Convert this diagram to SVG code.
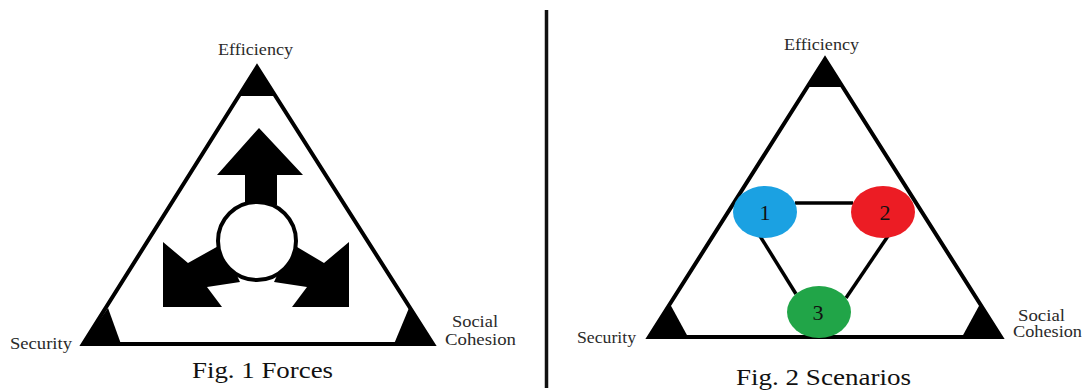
<svg xmlns="http://www.w3.org/2000/svg" width="1085" height="392" viewBox="0 0 1085 392">
<style>
.lbl{font-family:"Liberation Serif","Times New Roman",serif;font-size:16px;fill:#2a2a2a}
.cap{font-family:"Liberation Serif","Times New Roman",serif;font-size:24px;fill:#111}
.num{font-family:"Liberation Serif","Times New Roman",serif;font-size:22px;fill:#111}
.tri{fill:none;stroke:#000;stroke-width:4;stroke-linejoin:miter}
.blk{fill:#000}
.edge{stroke:#000;stroke-width:3.5;fill:none}
</style>
<rect width="1085" height="392" fill="#fff"/>
<g id="fig1">
  <polygon class="tri" points="257,67 83,344 433,344"/>
  <polygon class="blk" points="257,67 239,96 275,96"/>
  <polygon class="blk" points="83,344 108,308 121,344"/>
  <polygon class="blk" points="433,344 394,344 409,308"/>
  <g id="forces">
    <polygon class="blk" points="259,128 303,175 277,175 277,205 245,205 245,175 217,175"/>
    <polygon class="blk" points="163,242 188,263 222,244 240,282 207,287 222,307 163,307"/>
    <polygon class="blk" points="349,242 324,263 292,244 274,282 307,287 292,307 349,307"/>
    <circle cx="257" cy="241" r="39" fill="#fff" stroke="#000" stroke-width="4"/>
  </g>
  <text class="lbl" x="218" y="55" textLength="75" lengthAdjust="spacingAndGlyphs">Efficiency</text>
  <text class="lbl" x="10" y="349" textLength="62" lengthAdjust="spacingAndGlyphs">Security</text>
  <text class="lbl" x="452" y="327" textLength="46" lengthAdjust="spacingAndGlyphs">Social</text>
  <text class="lbl" x="445" y="345" textLength="71" lengthAdjust="spacingAndGlyphs">Cohesion</text>
  <text class="cap" x="192" y="378" textLength="141" lengthAdjust="spacingAndGlyphs">Fig. 1 Forces</text>
</g>
<g id="divider">
  <line x1="546.5" y1="10" x2="546.5" y2="388" stroke="#111" stroke-width="3.5"/>
</g>
<g id="fig2">
  <polygon class="tri" points="825,59 649,337 1001,337"/>
  <polygon class="blk" points="825,59 807,87 843,87"/>
  <polygon class="blk" points="649,337 670,304 688,337"/>
  <polygon class="blk" points="1001,337 962,337 980,304"/>
  <text class="lbl" x="784" y="50" textLength="75" lengthAdjust="spacingAndGlyphs">Efficiency</text>
  <text class="lbl" x="577" y="343" textLength="59" lengthAdjust="spacingAndGlyphs">Security</text>
  <text class="lbl" x="1018" y="321" textLength="47" lengthAdjust="spacingAndGlyphs">Social</text>
  <text class="lbl" x="1013" y="337" textLength="69" lengthAdjust="spacingAndGlyphs">Cohesion</text>
  <text class="cap" x="736" y="385" textLength="175" lengthAdjust="spacingAndGlyphs">Fig. 2 Scenarios</text>
</g>
<g id="connectors">
  <line class="edge" x1="795" y1="203" x2="853" y2="203"/>
  <line class="edge" x1="760" y1="236" x2="796" y2="294"/>
  <line class="edge" x1="888" y1="236" x2="846" y2="298"/>
</g>
<g id="node1">
  <ellipse cx="765" cy="212" rx="32" ry="26" fill="#1ba1e2"/>
  <text class="num" x="765" y="220" text-anchor="middle">1</text>
</g>
<g id="node2">
  <ellipse cx="883" cy="212" rx="32" ry="26" fill="#ec1c24"/>
  <text class="num" x="885" y="220" text-anchor="middle">2</text>
</g>
<g id="node3">
  <ellipse cx="819" cy="312" rx="32" ry="26" fill="#21a548"/>
  <text class="num" x="818" y="320" text-anchor="middle">3</text>
</g>
</svg>
